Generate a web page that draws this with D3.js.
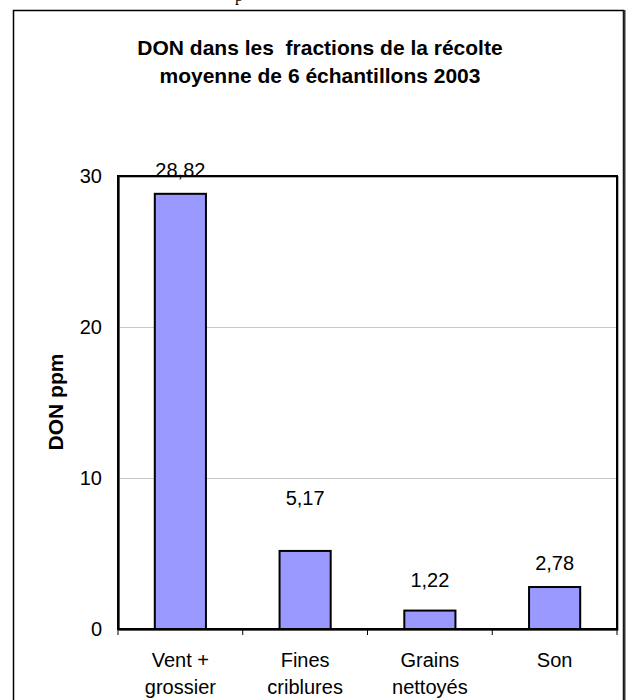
<!DOCTYPE html>
<html>
<head>
<meta charset="utf-8">
<script src="https://cdn.jsdelivr.net/npm/d3@7/dist/d3.min.js"></script>
<style>
  html, body { margin: 0; padding: 0; background: #fff; }
  svg { display: block; }
</style>
</head>
<body>
<svg id="chart" width="630" height="700"></svg>
<script>
// Data
const categories = [["Vent +", "grossier"], ["Fines", "criblures"], ["Grains", "nettoyés"], ["Son"]];
const values = [28.82, 5.17, 1.22, 2.78];
const valueLabels = ["28,82", "5,17", "1,22", "2,78"];
const yTicks = [0, 10, 20, 30];
const titleLines = ["DON dans les  fractions de la récolte", "moyenne de 6 échantillons 2003"];
const yTitle = "DON ppm";

const svg = d3.select("#chart");
const sans = "Arial, 'Liberation Sans', sans-serif";

// Plot area
const plot = { left: 118, top: 176, right: 617, bottom: 629 };

const x = d3.scaleBand()
  .domain(d3.range(categories.length))
  .range([plot.left, plot.right])
  .paddingInner(0.59)
  .paddingOuter(0.295);

const y = d3.scaleLinear().domain([0, 30]).range([plot.bottom, plot.top]);

// Tail of a caption line sitting above the frame
svg.append("text")
  .attr("x", 235).attr("y", 1)
  .attr("font-family", "'Liberation Serif', 'Times New Roman', serif")
  .attr("font-size", 16)
  .attr("fill", "#000")
  .text("p");

// Outer chart frame
svg.append("rect")
  .attr("x", 13.5).attr("y", 10.5)
  .attr("width", 610).attr("height", 720)
  .attr("fill", "#fff")
  .attr("stroke", "#000").attr("stroke-width", 1.5);
svg.append("line")
  .attr("x1", 624.5).attr("x2", 624.5).attr("y1", 10).attr("y2", 700)
  .attr("stroke", "#333").attr("stroke-width", 2);

// Title
const title = svg.append("text")
  .attr("text-anchor", "middle")
  .attr("font-family", sans)
  .attr("font-weight", "bold")
  .attr("font-size", 21)
  .attr("fill", "#000")
  .style("white-space", "pre");
titleLines.forEach((t, i) => {
  title.append("tspan").attr("x", 320).attr("y", 55 + i * 28).text(t);
});

// Gridlines
svg.append("g")
  .selectAll("line")
  .data(yTicks.filter(d => d > 0 && d < 30))
  .join("line")
  .attr("x1", plot.left).attr("x2", plot.right)
  .attr("y1", d => Math.round(y(d)) + 0.5).attr("y2", d => Math.round(y(d)) + 0.5)
  .attr("stroke", "#c8c8c8").attr("stroke-width", 1);

// Plot frame shadow and border
svg.append("rect")
  .attr("x", plot.left + 1).attr("y", plot.top + 1)
  .attr("width", plot.right - plot.left).attr("height", plot.bottom - plot.top)
  .attr("fill", "none").attr("stroke", "#999").attr("stroke-width", 1.5);
svg.append("rect")
  .attr("x", plot.left).attr("y", plot.top)
  .attr("width", plot.right - plot.left).attr("height", plot.bottom - plot.top)
  .attr("fill", "none").attr("stroke", "#000").attr("stroke-width", 2);

// Bars
svg.append("g")
  .selectAll("rect")
  .data(values)
  .join("rect")
  .attr("x", (d, i) => x(i))
  .attr("y", d => y(d))
  .attr("width", x.bandwidth())
  .attr("height", d => y(0) - y(d))
  .attr("fill", "#9999ff")
  .attr("stroke", "#000").attr("stroke-width", 2);

// Y axis
const yAxis = svg.append("g")
  .attr("transform", `translate(${plot.left},0)`)
  .call(d3.axisLeft(y).tickValues(yTicks).tickSize(0).tickPadding(16).tickFormat(d3.format("d")));
yAxis.select(".domain").attr("stroke", "#000").attr("stroke-width", 2);
yAxis.selectAll("text")
  .attr("font-family", sans).attr("font-size", 20).attr("fill", "#000");

// X axis with ticks at band boundaries
const xAxis = svg.append("g")
  .attr("transform", `translate(0,${plot.bottom})`)
  .call(d3.axisBottom(x).tickSize(0).tickFormat(() => ""));
xAxis.select(".domain").attr("stroke", "#000").attr("stroke-width", 2);
const step = x.step();
const boundaries = d3.range(categories.length + 1).map(i => plot.left + i * step);
svg.append("g")
  .selectAll("line")
  .data(boundaries)
  .join("line")
  .attr("x1", d => d).attr("x2", d => d)
  .attr("y1", plot.bottom).attr("y2", plot.bottom + 6)
  .attr("stroke", "#000").attr("stroke-width", 1);

// Category labels
const catLabels = svg.append("g")
  .selectAll("text")
  .data(categories)
  .join("text")
  .attr("text-anchor", "middle")
  .attr("font-family", sans).attr("font-size", 20).attr("fill", "#000");
catLabels.each(function(lines, i) {
  const cx = x(i) + x.bandwidth() / 2;
  lines.forEach((ln, j) => {
    d3.select(this).append("tspan").attr("x", cx).attr("y", 667 + j * 27).text(ln);
  });
});

// Value labels
const labelGap = [17, 46, 24, 17];
svg.append("g")
  .selectAll("text")
  .data(values)
  .join("text")
  .attr("x", (d, i) => x(i) + x.bandwidth() / 2)
  .attr("y", (d, i) => y(d) - labelGap[i])
  .attr("text-anchor", "middle")
  .attr("font-family", sans).attr("font-size", 20).attr("fill", "#000")
  .text((d, i) => valueLabels[i]);

// Y axis title
svg.append("text")
  .attr("transform", "translate(63,402) rotate(-90)")
  .attr("text-anchor", "middle")
  .attr("font-family", sans).attr("font-weight", "bold").attr("font-size", 21)
  .attr("fill", "#000")
  .text(yTitle);
</script>
</body>
</html>
